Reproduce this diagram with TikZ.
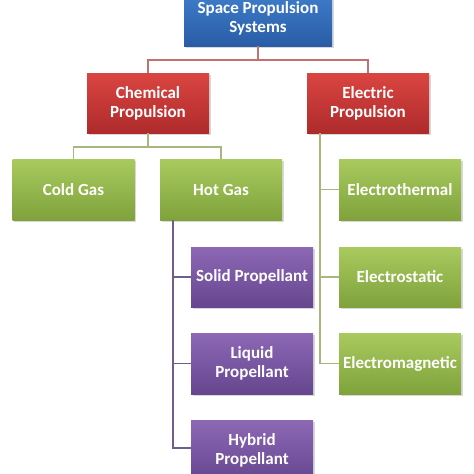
\documentclass[tikz,border=0pt]{standalone}
\usepackage{fontspec}
\setmainfont{Carlito}
\usetikzlibrary{shadows}
\definecolor{bluetop}{HTML}{3F7FCC}
\definecolor{bluebot}{HTML}{2A5CA6}
\definecolor{redtop}{HTML}{DA4541}
\definecolor{redbot}{HTML}{AE2B2C}
\definecolor{greentop}{HTML}{A8CA5E}
\definecolor{greenbot}{HTML}{7FA23C}
\definecolor{purptop}{HTML}{8D68B5}
\definecolor{purpbot}{HTML}{66468F}
\definecolor{redline}{HTML}{C07272}
\definecolor{greenline}{HTML}{A9B77E}
\definecolor{purpline}{HTML}{6E5E8E}
\tikzset{
  box/.style={minimum width=122pt, minimum height=60pt, inner sep=2pt,
    align=center, text=white, font=\bfseries\fontsize{17}{19}\selectfont,
    drop shadow={opacity=0.3, shadow xshift=1.5pt, shadow yshift=-1.5pt}},
  bluebox/.style={box, top color=bluetop, bottom color=bluebot, minimum width=148pt},
  redbox/.style={box, top color=redtop, bottom color=redbot},
  greenbox/.style={box, top color=greentop, bottom color=greenbot, minimum height=61pt},
  purpbox/.style={box, top color=purptop, bottom color=purpbot},
  conn/.style={line width=1.4pt}
}
\begin{document}
\begin{tikzpicture}[x=1pt,y=-1pt]
\useasboundingbox (0,0) rectangle (474,474);
\clip (0,0) rectangle (474,474);
\fill[white] (0,0) rectangle (474,474);
% nodes
\node[bluebox, minimum height=56pt] (top) at (258,18) {Space Propulsion\\Systems};
\node[redbox] (chem) at (148,103) {Chemical\\Propulsion};
\node[redbox] (elec) at (368,103) {Electric\\Propulsion};
\node[greenbox] (cold) at (73.5,189.5) {Cold Gas};
\node[greenbox] (hot) at (221,189.5) {Hot Gas};
\node[greenbox] (etherm) at (400,189.5) {Electrothermal};
\node[greenbox, minimum height=60pt] (estat) at (400,277) {Electrostatic};
\node[greenbox] (emag) at (400,363.5) {Electromagnetic};
\node[purpbox] (solid) at (252,277) {Solid Propellant};
\node[purpbox, minimum height=61pt] (liquid) at (252,363.5) {Liquid\\Propellant};
\node[purpbox, minimum height=61pt] (hybrid) at (252,450.5) {Hybrid\\Propellant};
% junctions
\coordinate (j1) at (258,60);
\coordinate (j2) at (148,147);
\coordinate (e0) at ([xshift=13pt]elec.south west);
\coordinate (h0) at ([xshift=13pt]hot.south west);
% connectors
\draw[conn, redline] (top.south) -- (j1);
\draw[conn, redline] (chem.north) |- (j1) -| (elec.north);
\draw[conn, greenline] (chem.south) -- (j2);
\draw[conn, greenline] (cold.north) |- (j2) -| (hot.north);
\draw[conn, greenline] (e0) |- (etherm.west);
\draw[conn, greenline] (e0) |- (estat.west);
\draw[conn, greenline] (e0) |- (emag.west);
\draw[conn, purpline] (h0) |- (solid.west);
\draw[conn, purpline] (h0) |- (liquid.west);
\draw[conn, purpline] (h0) |- ([yshift=2.5pt]hybrid.west);
\end{tikzpicture}
\end{document}
